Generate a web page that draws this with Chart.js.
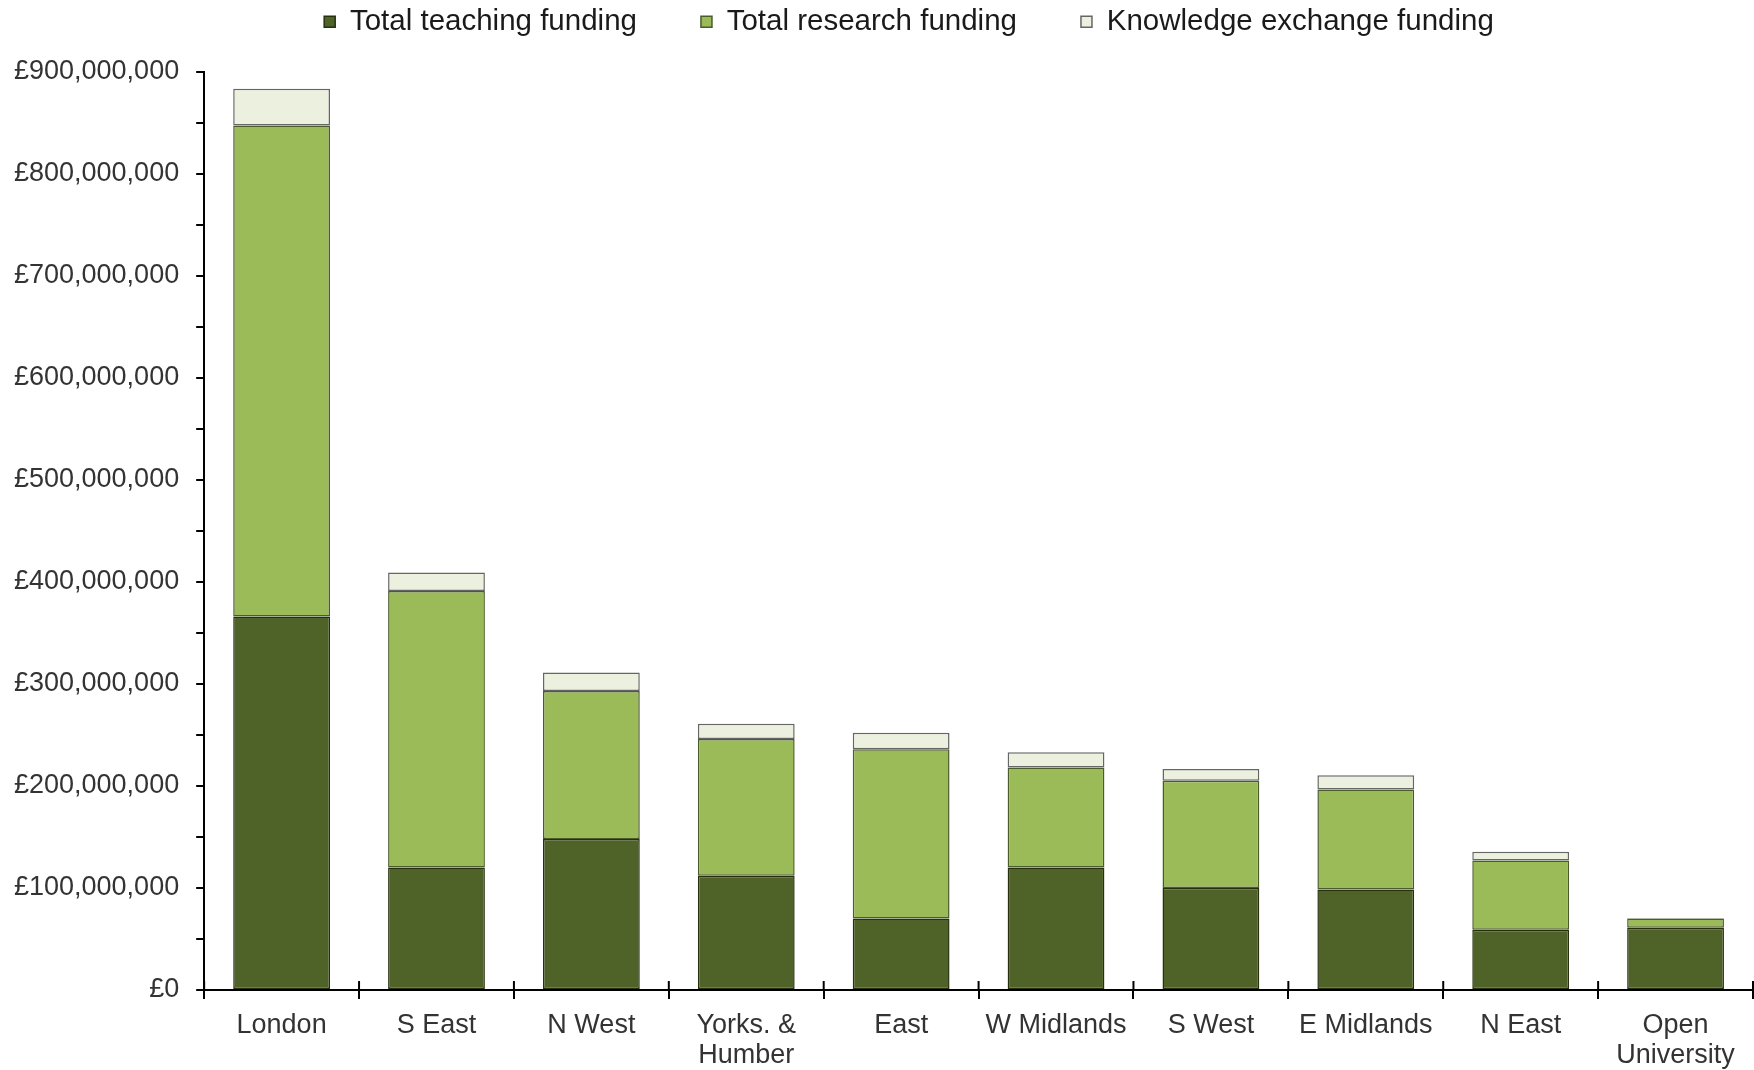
<!DOCTYPE html>
<html>
<head>
<meta charset="utf-8">
<script src="https://cdn.jsdelivr.net/npm/chart.js@4"></script>
<style>
  body { margin: 0; background: #fff; }
  #wrap { width: 1754px; height: 1070px; }
</style>
</head>
<body>
<div id="wrap"><canvas id="graficoFinanciacion" width="1754" height="1070"></canvas></div>
<script>
// regiones
const regiones = ['London', 'S East', 'N West', ['Yorks. &', 'Humber'], 'East', 'W Midlands', 'S West', 'E Midlands', 'N East', ['Open', 'University']];

// valores en millones de libras
const teaching = [366, 120, 148, 112, 70, 120, 100, 98.5, 59, 61];
const research = [481, 271, 145, 134, 166, 98, 105, 98, 68, 9];
const knowledgeExchange = [36, 18, 18, 15, 16, 15, 11.5, 14, 8.5, 0.5];

const seriesNames = ['Total teaching funding', 'Total research funding', 'Knowledge exchange funding'];
const yMax = 900000000;
const yStep = 50000000;

const M = 1000000;
const fuente = '"Liberation Sans", Arial, sans-serif';

// marcas del eje x que cruzan la línea (parte de arriba)
const marcasX = {
    id: 'marcasX',
    afterDraw(chart) {
        const x = chart.scales.x;
        const ctx = chart.ctx;
        const half = (x.getPixelForValue(1) - x.getPixelForValue(0)) / 2;
        ctx.save();
        ctx.strokeStyle = '#000';
        ctx.lineWidth = 2;
        for (let i = 0; i <= regiones.length; i++) {
            const px = x.getPixelForValue(i) - half;
            ctx.beginPath();
            ctx.moveTo(px, x.top - 9);
            ctx.lineTo(px, x.top);
            ctx.stroke();
        }
        ctx.restore();
    }
};

// la leyenda del original está algo más a la derecha
const moverLeyenda = {
    id: 'moverLeyenda',
    afterLayout(chart) {
        chart.legend.left += 34;
        chart.legend.right += 34;
    }
};

const ctx1 = document.getElementById('graficoFinanciacion').getContext('2d');
new Chart(ctx1, {
    type: 'bar',
    data: {
        labels: regiones,
        datasets: [{
            label: seriesNames[0],
            data: teaching.map(v => v * M),
            backgroundColor: '#4F6228',
            borderColor: '#26300f',
            borderWidth: 1.5,
            borderSkipped: false
        }, {
            label: seriesNames[1],
            data: research.map(v => v * M),
            backgroundColor: '#9BBB59',
            borderColor: '#4a5c2c',
            borderWidth: 1.5,
            borderSkipped: false
        }, {
            label: seriesNames[2],
            data: knowledgeExchange.map(v => v * M),
            backgroundColor: '#EBF1DE',
            borderColor: '#666',
            borderWidth: 1.5,
            borderSkipped: false
        }]
    },
    options: {
        responsive: false,
        animation: false,
        layout: { padding: { top: -57, left: -3, right: 1, bottom: -11.5 } },
        datasets: { bar: { categoryPercentage: 1, barPercentage: 0.625 } },
        plugins: {
            tooltip: { enabled: false },
            // espacio vacío entre la leyenda y el gráfico
            title: { display: true, text: '', weight: 100, padding: 0, font: { size: 25, lineHeight: 1 } },
            legend: {
                position: 'top',
                labels: {
                    font: { family: fuente, size: 29.5 },
                    color: '#1a1a1a',
                    boxWidth: 11,
                    boxHeight: 11,
                    padding: 64
                }
            }
        },
        scales: {
            x: {
                stacked: true,
                border: { color: '#000', width: 2 },
                grid: { offset: true, drawOnChartArea: false, tickLength: 9, color: '#000', lineWidth: 2 },
                ticks: {
                    font: { family: fuente, size: 27, lineHeight: 1.12 },
                    color: '#333',
                    padding: 11,
                    maxRotation: 0,
                    autoSkip: false
                }
            },
            y: {
                stacked: true,
                min: 0,
                max: yMax,
                border: { color: '#000', width: 2 },
                grid: { drawOnChartArea: false, tickLength: 8, color: '#000', lineWidth: 2 },
                ticks: {
                    stepSize: yStep,
                    autoSkip: false,
                    font: { family: fuente, size: 27 },
                    color: '#333',
                    padding: 17,
                    callback: v => (v % 100000000 === 0) ? '£' + v.toLocaleString('en-GB') : ''
                }
            }
        }
    },
    plugins: [marcasX, moverLeyenda]
});
</script>
</body>
</html>
